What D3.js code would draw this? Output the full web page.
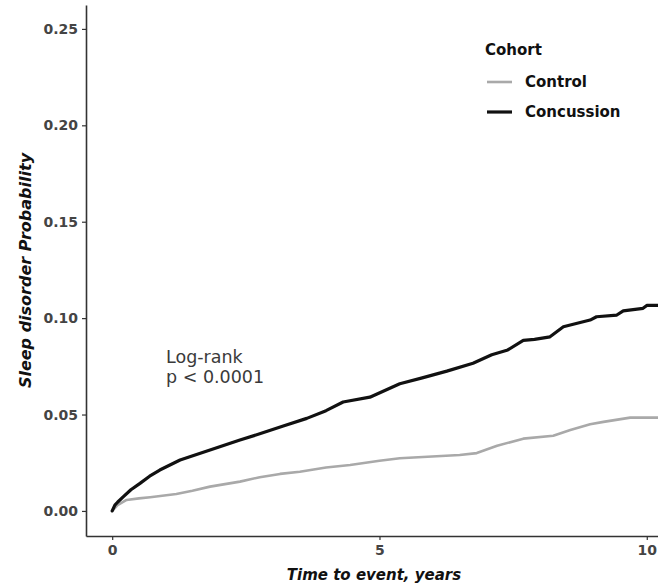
<!DOCTYPE html>
<html>
<head>
<meta charset="utf-8">
<script src="https://cdn.jsdelivr.net/npm/d3@7"></script>
<style>
  html, body { margin: 0; padding: 0; background: #fff; }
  svg { display: block; }
</style>
</head>
<body>
<div id="chart"></div>
<script>
// ---- data ----
const seriesNames = ["Control", "Concussion"];
const seriesColors = ["#a9a9a9", "#111111"];

const concussionTime = [0, 0.05, 0.1, 0.21, 0.35, 0.52, 0.7, 0.89, 1.27, 1.83, 2.39, 2.76, 3.2, 3.64, 4.0, 4.32, 4.82, 5.38, 5.8, 6.26, 6.75, 7.1, 7.4, 7.69, 7.9, 8.19, 8.44, 8.94, 9.06, 9.44, 9.56, 9.93, 10.0, 10.21];
const concussionProb = [0, 0.003, 0.0045, 0.0074, 0.011, 0.0143, 0.018, 0.0212, 0.0264, 0.0316, 0.0368, 0.040, 0.044, 0.048, 0.052, 0.0565, 0.059, 0.066, 0.069, 0.0725, 0.0766, 0.081, 0.0835, 0.0885, 0.089, 0.0903, 0.0955, 0.099, 0.1007, 0.1016, 0.1038, 0.1051, 0.1066, 0.1066];

const controlTime = [0, 0.1, 0.27, 0.5, 0.71, 1.2, 1.5, 1.83, 2.39, 2.76, 3.14, 3.51, 4.0, 4.45, 5.0, 5.38, 6.07, 6.5, 6.82, 7.2, 7.69, 8.25, 8.57, 8.94, 9.19, 9.69, 10.21];
const controlProb = [0, 0.003, 0.0057, 0.0065, 0.0071, 0.0088, 0.0105, 0.0126, 0.0152, 0.0175, 0.0192, 0.0203, 0.0225, 0.0238, 0.026, 0.0273, 0.0284, 0.029, 0.030, 0.0338, 0.0375, 0.039, 0.042, 0.045, 0.0462, 0.0484, 0.0484];

const xTicks = [0, 5, 10];
const yTicks = [0, 0.05, 0.10, 0.15, 0.20, 0.25];
const xTitle = "Time to event, years";
const yTitle = "Sleep disorder Probability";
const legendTitle = "Cohort";
const annotation = ["Log-rank", "p < 0.0001"];

// ---- layout ----
const W = 658, H = 586;
const padL = 86, padR = 658, padT = 5, padB = 536;

const svg = d3.select("#chart").append("svg")
  .attr("width", W).attr("height", H)
  .style("font-family", "'DejaVu Sans', sans-serif");

const x = d3.scaleLinear().domain([-0.49, 10.21]).range([padL, padR]);
const y = d3.scaleLinear().domain([-0.013, 0.2624]).range([padB, padT]);

// clip
svg.append("defs").append("clipPath").attr("id", "plotclip")
  .append("rect").attr("x", padL).attr("y", padT).attr("width", padR - padL).attr("height", padB - padT);

// curves
const series = [
  { name: seriesNames[0], color: seriesColors[0], width: 2.6, pts: controlTime.map((t, i) => [t, controlProb[i]]) },
  { name: seriesNames[1], color: seriesColors[1], width: 3.2, pts: concussionTime.map((t, i) => [t, concussionProb[i]]) }
];
const line = d3.line().x(d => x(d[0])).y(d => y(d[1])).curve(d3.curveLinear);
svg.append("g").attr("clip-path", "url(#plotclip)")
  .selectAll("path").data(series).join("path")
  .attr("d", d => line(d.pts))
  .attr("fill", "none")
  .attr("stroke", d => d.color)
  .attr("stroke-width", d => d.width)
  .attr("stroke-linejoin", "round")
  .attr("stroke-linecap", "round");

// axes
const yAxis = d3.axisLeft(y).tickValues(yTicks).tickFormat(d3.format(".2f")).tickSize(4).tickSizeOuter(0).tickPadding(4);
const gy = svg.append("g").attr("transform", `translate(${padL},0)`).call(yAxis);
gy.select(".domain").attr("stroke", "#333").attr("stroke-width", 1.6);
gy.selectAll(".tick line").attr("stroke", "#333").attr("stroke-width", 1.2);
gy.selectAll(".tick text").attr("fill", "#444").style("font-size", "14px").style("font-weight", "bold")
  .style("font-family", "'DejaVu Sans', sans-serif");

const xAxis = d3.axisBottom(x).tickValues(xTicks).tickFormat(d3.format("d")).tickSize(4).tickSizeOuter(0).tickPadding(5);
const gx = svg.append("g").attr("transform", `translate(0,${padB})`).call(xAxis);
gx.select(".domain").attr("stroke", "#333").attr("stroke-width", 1.6);
gx.selectAll(".tick line").attr("stroke", "#333").attr("stroke-width", 1.2);
gx.selectAll(".tick text").attr("fill", "#444").style("font-size", "14px").style("font-weight", "bold")
  .style("font-family", "'DejaVu Sans', sans-serif");

// axis titles
svg.append("text")
  .attr("x", 374).attr("y", 580)
  .attr("text-anchor", "middle")
  .style("font-size", "15px").style("font-weight", "bold").style("font-style", "italic")
  .attr("fill", "#111")
  .text(xTitle);

svg.append("text")
  .attr("transform", `translate(31,${(padT + padB) / 2}) rotate(-90)`)
  .attr("text-anchor", "middle")
  .style("font-size", "16px").style("font-weight", "bold").style("font-style", "italic")
  .attr("fill", "#111")
  .text(yTitle);

// annotation
const ann = svg.append("text").attr("x", 166).attr("y", 363)
  .style("font-size", "17.5px").attr("fill", "#3a3a3a");
ann.selectAll("tspan").data(annotation).join("tspan")
  .attr("x", 166).attr("dy", (d, i) => i === 0 ? 0 : 20)
  .text(d => d);

// legend
const lg = svg.append("g");
lg.append("text").attr("x", 485).attr("y", 55)
  .style("font-size", "15px").style("font-weight", "bold").attr("fill", "#111")
  .text(legendTitle);
const legendY = [82, 112];
series.forEach((s, i) => {
  lg.append("line").attr("x1", 487).attr("x2", 512)
    .attr("y1", legendY[i]).attr("y2", legendY[i])
    .attr("stroke", s.color).attr("stroke-width", s.width);
  lg.append("text").attr("x", 525).attr("y", legendY[i])
    .attr("dy", "0.36em")
    .style("font-size", "15px").style("font-weight", "bold").attr("fill", "#111")
    .text(s.name);
});
</script>
</body>
</html>
